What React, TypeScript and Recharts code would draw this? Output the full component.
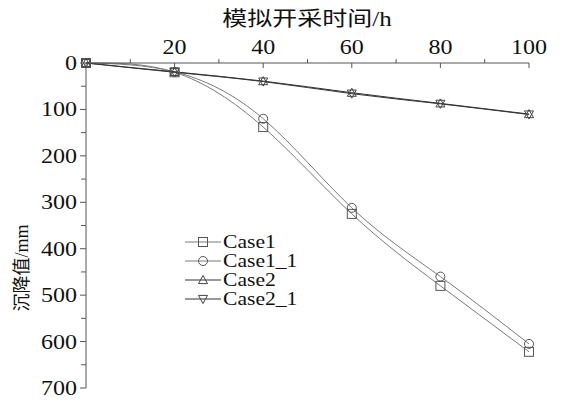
import React from 'react'
import { LineChart, Line, XAxis, YAxis, Legend } from 'recharts'

const hours = [0, 20, 40, 60, 80, 100]
const case1 = [0, 20, 138, 325, 480, 622]
const case1_1 = [0, 19, 120, 312, 460, 605]
const case2 = [0, 19, 39, 64, 87, 110]
const case2_1 = [0, 20, 40, 66, 88, 111]

const xTicks = [0, 10, 20, 30, 40, 50, 60, 70, 80, 90, 100]
const yTicks = [0, 50, 100, 150, 200, 250, 300, 350, 400, 450, 500, 550, 600, 650, 700]

const xTitle = '模拟开采时间/h'
const yTitle = '沉降值/mm'

const data = hours.map((h, i) => ({
  h,
  case1: case1[i],
  case1_1: case1_1[i],
  case2: case2[i],
  case2_1: case2_1[i],
}))

const SERIF = "'Liberation Serif', 'Times New Roman', 'DejaVu Serif', serif"
const CJK = "'Liberation Serif', 'Times New Roman', 'Noto Sans CJK SC', serif"
const AXIS = '#555'

type Shape = 'square' | 'circle' | 'up' | 'down'

const Marker = ({ shape, cx, cy, stroke }: { shape: Shape; cx: number; cy: number; stroke: string }) => {
  const s = 4.5
  if (shape === 'square')
    return <rect x={cx - s} y={cy - s} width={s * 2} height={s * 2} fill="none" stroke={stroke} strokeWidth={1} />
  if (shape === 'circle') return <circle cx={cx} cy={cy} r={s} fill="none" stroke={stroke} strokeWidth={1} />
  if (shape === 'up')
    return <polygon points={`${cx},${cy - s} ${cx + s},${cy + s * 0.8} ${cx - s},${cy + s * 0.8}`} fill="none" stroke={stroke} strokeWidth={1} />
  return <polygon points={`${cx},${cy + s} ${cx + s},${cy - s * 0.8} ${cx - s},${cy - s * 0.8}`} fill="none" stroke={stroke} strokeWidth={1} />
}

const series: { key: string; name: string; shape: Shape; line: string; mark: string }[] = [
  { key: 'case1', name: 'Case1', shape: 'square', line: '#7a7a7a', mark: '#555' },
  { key: 'case1_1', name: 'Case1_1', shape: 'circle', line: '#7a7a7a', mark: '#555' },
  { key: 'case2', name: 'Case2', shape: 'up', line: '#333', mark: '#444' },
  { key: 'case2_1', name: 'Case2_1', shape: 'down', line: '#333', mark: '#444' },
]

const XTick = (p: any) => {
  const { x, y, payload } = p
  const v = payload.value
  if (v === 0) return <g />
  const major = v % 20 === 0
  return (
    <g>
      <line x1={x} x2={x} y1={y} y2={major ? y + 5 : y - 4} stroke={AXIS} />
      {major && (
        <text transform={`translate(${x},${y - 9}) scale(1.2,1)`} textAnchor="middle" fontSize={20} style={{ fontFamily: SERIF }} fill="#111">
          {v}
        </text>
      )}
    </g>
  )
}

const YTick = (p: any) => {
  const { x, y, payload } = p
  const v = payload.value
  const major = v % 100 === 0
  return (
    <g>
      <line x1={x} x2={x - (major ? 6 : 5)} y1={y} y2={y} stroke={AXIS} />
      {major && (
        <text transform={`translate(${x - 9},${y + 7}) scale(1.2,1)`} textAnchor="end" fontSize={20} style={{ fontFamily: SERIF }} fill="#111">
          {v}
        </text>
      )}
    </g>
  )
}

const LegendBox = () => (
  <svg width={200} height={80}>
    {series.map((s, i) => {
      const cy = 10 + i * 19
      return (
        <g key={s.key}>
          <line x1={2} x2={38} y1={cy} y2={cy} stroke={s.line} />
          <Marker shape={s.shape} cx={20} cy={cy} stroke={s.mark} />
          <text transform={`translate(40,${cy + 6}) scale(1.2,1)`} fontSize={18} style={{ fontFamily: SERIF }} fill="#111">
            {s.name}
          </text>
        </g>
      )
    })}
  </svg>
)

export default function App() {
  return (
    <div style={{ position: 'absolute', left: 0, top: 0, width: 562, height: 402, background: '#fff', fontFamily: SERIF }}>
      <LineChart width={562} height={402} data={data} margin={{ top: 0, right: 33, bottom: 14, left: 0 }}>
        <XAxis
          dataKey="h"
          type="number"
          orientation="top"
          domain={[0, 100]}
          ticks={xTicks}
          interval={0}
          height={63}
          tickSize={0}
          tickMargin={0}
          tick={<XTick />}
          stroke={AXIS}
        />
        <YAxis
          type="number"
          reversed
          domain={[0, 700]}
          ticks={yTicks}
          interval={0}
          width={86}
          tickSize={0}
          tickMargin={0}
          tick={<YTick />}
          stroke={AXIS}
        />
        <Legend
          layout="vertical"
          align="center"
          verticalAlign="middle"
          content={() => <LegendBox />}
          wrapperStyle={{ left: 183, top: 232, width: 200 }}
        />
        {series.map((s) => (
          <Line
            key={s.key}
            type="natural"
            dataKey={s.key}
            name={s.name}
            stroke={s.line}
            strokeWidth={1}
            isAnimationActive={false}
            dot={(d: any) => <Marker key={`${s.key}-${d.index}`} shape={s.shape} cx={d.cx} cy={d.cy} stroke={s.mark} />}
            activeDot={false}
          />
        ))}
      </LineChart>
      <svg width={562} height={402} style={{ position: 'absolute', left: 0, top: 0, pointerEvents: 'none' }}>
        <text transform="translate(307,26) scale(1.25,1)" textAnchor="middle" fontSize={20} style={{ fontFamily: CJK }} fill="#111">
          {xTitle}
        </text>
        <text transform="translate(28,268) rotate(-90)" textAnchor="middle" fontSize={18} style={{ fontFamily: CJK }} fill="#111">
          {yTitle}
        </text>
      </svg>
    </div>
  )
}
